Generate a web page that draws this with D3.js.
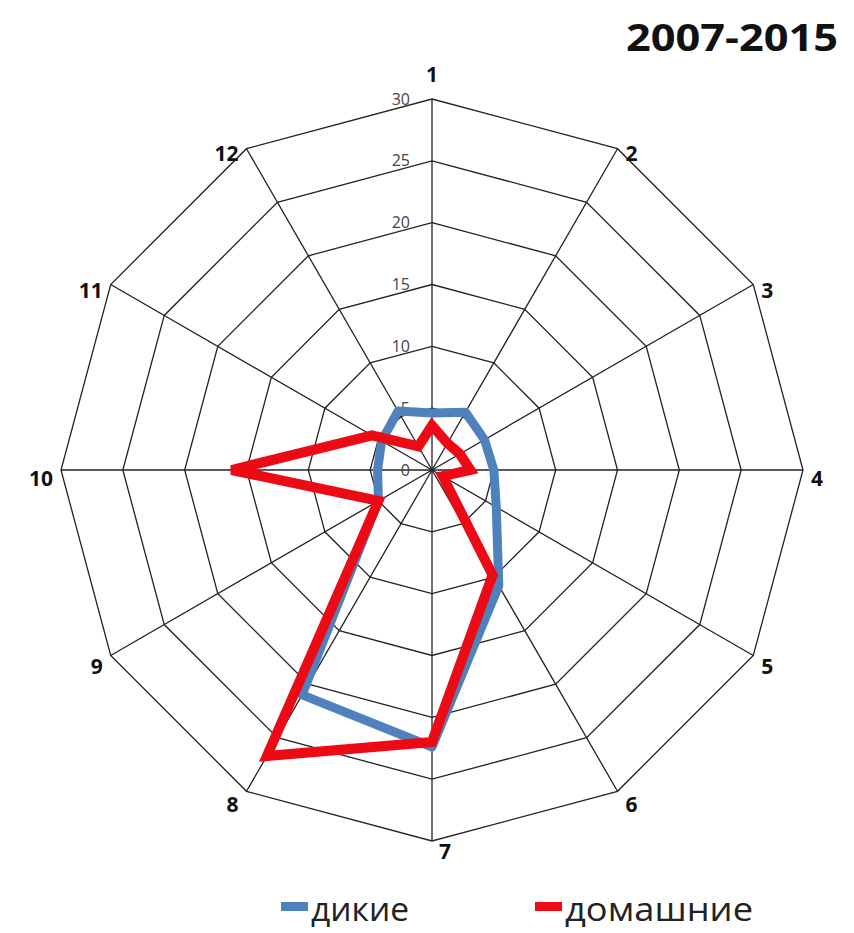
<!DOCTYPE html>
<html>
<head>
<meta charset="utf-8">
<script src="https://cdn.jsdelivr.net/npm/d3@7"></script>
<style>
  body { margin: 0; background: #fff; }
  svg { display: block; font-family: "Open Sans", "DejaVu Sans", sans-serif; }
</style>
</head>
<body>
<svg id="chart" width="854" height="933"></svg>
<script>
var axes = ["1", "2", "3", "4", "5", "6", "7", "8", "9", "10", "11", "12"];
var wild = [4.6, 5.4, 4.9, 5.0, 6.0, 10.8, 22.4, 21.0, 5.0, 4.4, 4.7, 5.5];
var domestic = [3.6, 2.5, 2.6, 3.1, 1.0, 9.8, 22.0, 26.7, 5.0, 16.2, 5.6, 2.2];
var ticks = [0, 5, 10, 15, 20, 25, 30];
var seriesNames = ["дикие", "домашние"];
var title = "2007-2015";

var svg = d3.select("svg"),
  cx = 432,
  cy = 470,
  radius = 371;

var r = d3.scaleLinear().domain([0, 30]).range([0, radius]);
var angle = d3.scalePoint().domain(axes).range([0, 2 * Math.PI * 11 / 12]);

function pt(a, v) {
  var t = angle(a);
  return [cx + r(v) * Math.sin(t), cy - r(v) * Math.cos(t)];
}

var g = svg.append("g");

// rings
g.selectAll(".ring")
  .data(ticks.slice(1))
  .enter()
  .append("polygon")
  .attr("points", function (v) {
    return axes.map(function (a) { return pt(a, v).join(","); }).join(" ");
  })
  .attr("fill", "none")
  .attr("stroke", "#222")
  .attr("stroke-width", 1.3);

// spokes
g.selectAll(".spoke")
  .data(axes)
  .enter()
  .append("line")
  .attr("x1", cx)
  .attr("y1", cy)
  .attr("x2", function (a) { return pt(a, 30)[0]; })
  .attr("y2", function (a) { return pt(a, 30)[1]; })
  .attr("stroke", "#222")
  .attr("stroke-width", 1.3);

// tick labels
g.selectAll(".tick")
  .data(ticks)
  .enter()
  .append("text")
  .attr("x", cx - 22)
  .attr("y", function (v) { return cy - r(v); })
  .attr("dy", "0.35em")
  .attr("text-anchor", "end")
  .attr("font-size", 16)
  .attr("fill", "#444")
  .text(function (v) { return v; });

// axis labels, placed next to the outer corner like Excel does
g.selectAll(".axlab")
  .data(axes)
  .enter()
  .append("text")
  .attr("x", function (a) {
    var p = pt(a, 30), s = Math.sin(angle(a));
    if (Math.abs(s) < 0.01) return p[0] + (Math.cos(angle(a)) < 0 ? 13 : 0);
    return p[0] + (s > 0 ? 8 : -8);
  })
  .attr("y", function (a) {
    var p = pt(a, 30), c = Math.cos(angle(a));
    if (Math.abs(c) > 0.99) return p[1] + (c > 0 ? -24 : 11);
    return p[1] + 4 + 5 * (1 - c);
  })
  .attr("dy", "0.35em")
  .attr("text-anchor", function (a) {
    var s = Math.sin(angle(a));
    if (Math.abs(s) < 0.01) return "middle";
    return s > 0 ? "start" : "end";
  })
  .attr("font-size", 21)
  .attr("font-weight", "bold")
  .attr("fill", "#111")
  .text(function (a) { return a; });

var line = d3.lineRadial()
  .angle(function (d, i) { return angle(axes[i]); })
  .radius(function (d) { return r(d); })
  .curve(d3.curveLinearClosed);

g.append("path")
  .datum(wild)
  .attr("transform", "translate(" + cx + "," + cy + ")")
  .attr("d", line)
  .attr("fill", "none")
  .attr("stroke", "#4f81bd")
  .attr("stroke-width", 9)
  .attr("stroke-linejoin", "round");

g.append("path")
  .datum(domestic)
  .attr("transform", "translate(" + cx + "," + cy + ")")
  .attr("d", line)
  .attr("fill", "none")
  .attr("stroke", "#ee0a14")
  .attr("stroke-width", 10)
  .attr("stroke-linejoin", "miter");

// title
svg.append("text")
  .attr("x", 838)
  .attr("y", 51)
  .attr("text-anchor", "end")
  .attr("font-size", 38)
  .attr("font-weight", "bold")
  .attr("fill", "#111")
  .attr("textLength", 212)
  .attr("lengthAdjust", "spacingAndGlyphs")
  .text(title);

// legend
var legend = [
  { name: seriesNames[0], color: "#4f81bd", x: 281, w: 98 },
  { name: seriesNames[1], color: "#ee0a14", x: 535, w: 188 }
];
var lg = svg.selectAll(".leg")
  .data(legend)
  .enter()
  .append("g");
lg.append("rect")
  .attr("x", function (d) { return d.x; })
  .attr("y", 902)
  .attr("width", 27)
  .attr("height", 9)
  .attr("fill", function (d) { return d.color; });
lg.append("text")
  .attr("x", function (d) { return d.x + 30; })
  .attr("y", 921)
  .attr("font-size", 32)
  .attr("fill", "#222")
  .attr("textLength", function (d) { return d.w; })
  .attr("lengthAdjust", "spacingAndGlyphs")
  .text(function (d) { return d.name; });
</script>
</body>
</html>
